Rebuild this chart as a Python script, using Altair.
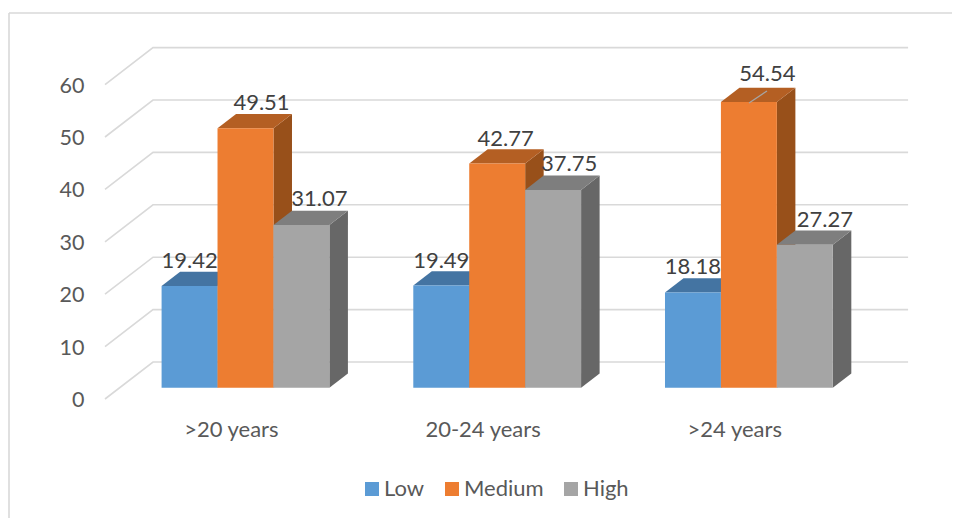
import altair as alt
import pandas as pd

# ---- values
categories = [">20 years", "20-24 years", ">24 years"]
series = ["Low", "Medium", "High"]
low = [19.42, 19.49, 18.18]
medium = [49.51, 42.77, 54.54]
high = [31.07, 37.75, 27.27]
y_ticks = [0, 10, 20, 30, 40, 50, 60]

# ---- styling
front_colors = ["#5B9BD5", "#ED7D31", "#A5A5A5"]
top_colors = ["#4474A2", "#B45F23", "#7E7E7E"]
side_colors = ["#386A94", "#98501A", "#676767"]
GRID = "#D9D9D9"
FONT = "Lato"

# ---- oblique projection: depth moves a point right and up, in axis units
CAT_PX = 251.7
VAL_PX = 5.24
DEPTH_X = 48 / CAT_PX
DEPTH_Y = 37 / VAL_PX
Z0, Z1 = 0.305, 0.691
BAR_W = 2 / 9
LEFT = 1 / 6
W, H = 944, 510
x_scale = alt.Scale(domain=[(8 - 105) / CAT_PX, (952 - 105) / CAT_PX], range=[0, W], nice=False, zero=False)
y_scale = alt.Scale(domain=[(399 - 518) / VAL_PX, (399 - 8) / VAL_PX], range=[H, 0], nice=False, zero=False)

# label nudges (px from the default place) for the hand-placed data labels
label_nudge_x = [[0, 16, 18], [0, 8.5, 16], [0, 18.5, 20]]
label_nudge_y = [[0, 0, 1], [0, 0, 1], [0, 3, 0]]
LABEL_RISE = 25 / VAL_PX

values = [low, medium, high]
fronts, tops, sides, labels = [], [], [], []
for i, cat in enumerate(categories):
    for k, s in enumerate(series):
        v = values[k][i]
        x0 = i + LEFT + k * BAR_W
        x1 = x0 + BAR_W
        fronts.append(dict(series=s, x=x0 + Z0 * DEPTH_X, x2=x1 + Z0 * DEPTH_X,
                           y=Z0 * DEPTH_Y, y2=v + Z0 * DEPTH_Y))
        for z in (Z0, Z1):
            tops.append(dict(series=s, bar=i, y=v + z * DEPTH_Y,
                             x=x0 + z * DEPTH_X, x2=x1 + z * DEPTH_X))
            sides.append(dict(series=s, bar=i, x=x1 + z * DEPTH_X,
                              y=z * DEPTH_Y, y2=v + z * DEPTH_Y))
        labels.append(dict(text=f"{v:.2f}",
                           x=(x0 + x1) / 2 + Z0 * DEPTH_X + label_nudge_x[i][k] / CAT_PX,
                           y=v + Z0 * DEPTH_Y + LABEL_RISE + label_nudge_y[i][k] / VAL_PX))

grid = []
for t in y_ticks:
    grid += [dict(t=t, o=0, x=0, y=t),
             dict(t=t, o=1, x=DEPTH_X, y=t + DEPTH_Y),
             dict(t=t, o=2, x=len(categories) + DEPTH_X, y=t + DEPTH_Y)]

fronts, tops, sides = map(pd.DataFrame, (fronts, tops, sides))

x_axis = alt.Axis(values=[0.5, 1.5, 2.5], offset=-(H - 411), domain=False, ticks=False, grid=False,
                  labelPadding=0, labelFontSize=22, labelFont=FONT, labelColor="#595959",
                  labelFlush=False, labelOverlap=False,
                  labelExpr="['>20 years','20-24 years','>24 years'][datum.value-0.5]")
y_axis = alt.Axis(values=y_ticks, offset=-76, domain=False, ticks=False, grid=False,
                  labelPadding=0, labelFontSize=21.5, labelFont=FONT, labelColor="#595959",
                  labelFlush=False, labelOverlap=False, labelOffset=1.5, format="d")

X = alt.X("x:Q", scale=x_scale, axis=x_axis, title=None)
Y = alt.Y("y:Q", scale=y_scale, axis=y_axis, title=None)

grid_layer = alt.Chart(pd.DataFrame(grid)).mark_line(color=GRID, strokeWidth=1.6).encode(
    x=X, y=Y, detail="t:N", order="o:Q")

side_layers = [
    alt.Chart(sides[sides.series == s]).mark_area(orient="vertical", color=c, opacity=1).encode(
        x=X, y=Y, y2="y2:Q", detail="bar:N")
    for s, c in zip(series, side_colors)
]
top_layers = [
    alt.Chart(tops[tops.series == s]).mark_area(orient="horizontal", color=c, opacity=1).encode(
        x=X, x2="x2:Q", y=Y, detail="bar:N")
    for s, c in zip(series, top_colors)
]
front_layer = alt.Chart(fronts).mark_bar(opacity=1).encode(
    x=X, x2="x2:Q", y=Y, y2="y2:Q",
    color=alt.Color("series:N", title=None,
                    scale=alt.Scale(domain=series, range=front_colors),
                    legend=alt.Legend(orient="none", legendX=353, legendY=470, direction="horizontal",
                                      columns=3, symbolType="square", symbolSize=196, symbolStrokeWidth=0,
                                      symbolOpacity=1, columnPadding=16, labelOffset=1, labelFont=FONT,
                                      labelFontSize=22, labelColor="#595959", padding=0)))

label_layer = alt.Chart(pd.DataFrame(labels)).mark_text(
    font=FONT, fontSize=22, color="#404040", baseline="middle", align="center").encode(
    x=X, y=Y, text="text:N")

leader = alt.Chart(pd.DataFrame([dict(x=2.5586, x2=2.630, y=56.49, y2=58.78)])).mark_rule(
    color="#A6A6A6", strokeWidth=1.2).encode(x=X, x2="x2:Q", y=Y, y2="y2:Q")

frame_top = alt.Chart(pd.DataFrame({"a": [0]})).mark_rule(color=GRID, strokeWidth=1.6).encode(
    x=alt.value(1), x2=alt.value(W), y=alt.value(5))
frame_left = alt.Chart(pd.DataFrame({"a": [0]})).mark_rule(color=GRID, strokeWidth=1.6).encode(
    x=alt.value(1), y=alt.value(5), y2=alt.value(H))

chart = alt.layer(frame_top, frame_left, grid_layer, *side_layers, *top_layers, front_layer,
                  label_layer, leader).properties(
    width=W, height=H, padding=0, background="white",
    autosize=alt.AutoSizeParams(type="none"),
).configure_view(stroke=None)

chart.save("out.html", embed_options={"renderer": "svg", "actions": False})
